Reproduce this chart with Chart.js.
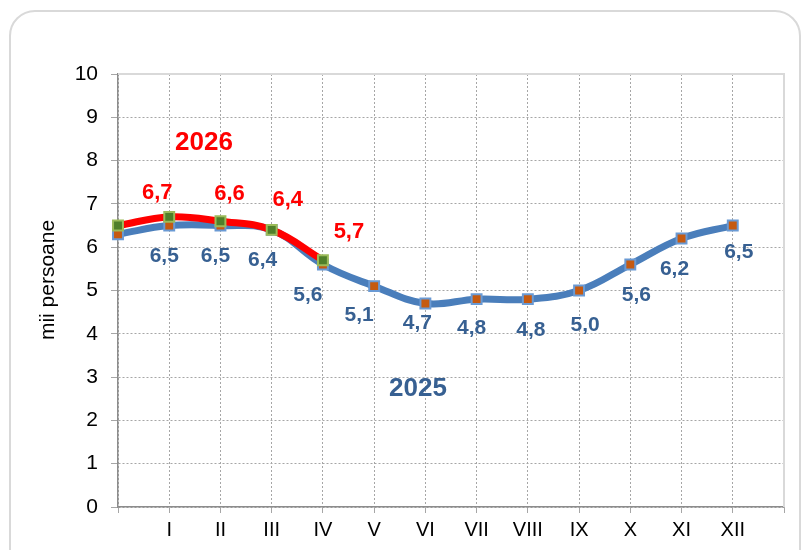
<!DOCTYPE html>
<html>
<head>
<meta charset="utf-8">
<script src="https://cdn.jsdelivr.net/npm/chart.js@4.4.1/dist/chart.umd.min.js"></script>
<style>
  html, body { margin: 0; padding: 0; background: #fff; overflow: hidden; }
  #wrap { position: relative; width: 803px; height: 550px; }
  #frame { position: absolute; left: 9px; top: 10px; width: 788px; height: 600px; border: 2px solid #d9d9d9; border-radius: 26px; }
  #chart { position: absolute; left: 0; top: 0; }
</style>
</head>
<body>
<div id="wrap">
  <div id="frame"></div>
  <canvas id="chart" width="803" height="550"></canvas>
</div>
<script>
// months (first slot = December of previous year, last slot pads the axis)
const months = ["", "I", "II", "III", "IV", "V", "VI", "VII", "VIII", "IX", "X", "XI", "XII", ""];
const values2025 = [6.3, 6.5, 6.5, 6.4, 5.6, 5.1, 4.7, 4.8, 4.8, 5.0, 5.6, 6.2, 6.5];
const values2026 = [6.5, 6.7, 6.6, 6.4, 5.7];
const yMin = 0;
const yMax = 10;

// where each value label sits relative to its point [dx, dy]
const shift2025 = [null, [-5, 31], [-5, 31], [-9, 30], [-15, 31], [-15, 29], [-8, 20], [-5, 29], [3, 31], [6, 35], [6, 31], [-7, 31], [6, 27]];
const shift2026 = [null, [-12, -24], [9, -27], [16, -30], [26, -28]];

const BLUE = "#4a7ebb";
const BLUE_TEXT = "#376092";
const RED = "#ff0000";
const FONT = "'Liberation Sans', Arial, sans-serif";

function fmt(v) {
  return v.toFixed(1).replace(".", ",");
}

const annotate = {
  id: "annotate",
  beforeDatasetsDraw(chart) {
    const { ctx, chartArea } = chart;
    ctx.save();
    ctx.strokeStyle = "#d9d9d9";
    ctx.lineWidth = 2;
    ctx.beginPath();
    ctx.moveTo(chartArea.left, chartArea.top);
    ctx.lineTo(chartArea.right, chartArea.top);
    ctx.lineTo(chartArea.right, chartArea.bottom);
    ctx.stroke();
    ctx.restore();
  },
  afterDatasetsDraw(chart) {
    const ctx = chart.ctx;
    ctx.save();
    ctx.textAlign = "center";
    ctx.textBaseline = "middle";

    const drawValues = (index, values, shifts, color, size) => {
      const points = chart.getDatasetMeta(index).data;
      ctx.font = "bold " + size + "px " + FONT;
      ctx.fillStyle = color;
      values.forEach((v, i) => {
        if (!shifts[i]) return;
        ctx.fillText(fmt(v), points[i].x + shifts[i][0], points[i].y + shifts[i][1]);
      });
    };
    drawValues(0, values2026, shift2026, RED, 22);
    drawValues(1, values2025, shift2025, BLUE_TEXT, 21);

    // series names
    ctx.font = "bold 26px " + FONT;
    ctx.fillStyle = RED;
    ctx.fillText("2026", 204, 143);
    ctx.fillStyle = BLUE_TEXT;
    ctx.fillText("2025", 418, 389);

    // y axis title
    ctx.font = "21px " + FONT;
    ctx.fillStyle = "#000";
    ctx.translate(48, 280);
    ctx.rotate(-Math.PI / 2);
    ctx.fillText("mii persoane", 0, 0);
    ctx.restore();
  }
};

new Chart(document.getElementById("chart"), {
  type: "line",
  data: {
    labels: months,
    datasets: [
      {
        label: "2026",
        data: values2026,
        borderColor: RED,
        borderWidth: 7,
        tension: 0.4,
        pointStyle: "rect",
        pointRadius: 7,
        pointBorderWidth: 2,
        pointBackgroundColor: "#4f7f2a",
        pointBorderColor: "#9bbb59",
        order: 0
      },
      {
        label: "2025",
        data: values2025,
        borderColor: BLUE,
        borderWidth: 7,
        tension: 0.4,
        pointStyle: "rect",
        pointRadius: 7,
        pointBorderWidth: 2,
        pointBackgroundColor: "#c55a11",
        pointBorderColor: "#6a9ad4",
        order: 1
      }
    ]
  },
  options: {
    responsive: false,
    animation: false,
    devicePixelRatio: 1,
    layout: { padding: { left: 0, right: 19, top: 74, bottom: 0 } },
    plugins: {
      legend: { display: false },
      tooltip: { enabled: false }
    },
    scales: {
      x: {
        type: "category",
        offset: false,
        afterFit: (scale) => { scale.height = 43; },
        grid: { color: "#a6a6a6", tickLength: 6 },
        border: { color: "#8c8c8c", width: 1.5, dash: [2, 2] },
        ticks: {
          autoSkip: false,
          maxRotation: 0,
          padding: 5,
          color: "#000",
          font: { family: FONT, size: 20 }
        }
      },
      y: {
        min: yMin,
        max: yMax,
        afterFit: (scale) => { scale.width = 118; },
        grid: { color: "#a6a6a6", tickLength: 7 },
        border: { color: "#8c8c8c", width: 1.5, dash: [2, 2] },
        ticks: {
          stepSize: 1,
          padding: 13,
          color: "#000",
          font: { family: FONT, size: 21 }
        }
      }
    }
  },
  plugins: [annotate]
});
</script>
</body>
</html>
